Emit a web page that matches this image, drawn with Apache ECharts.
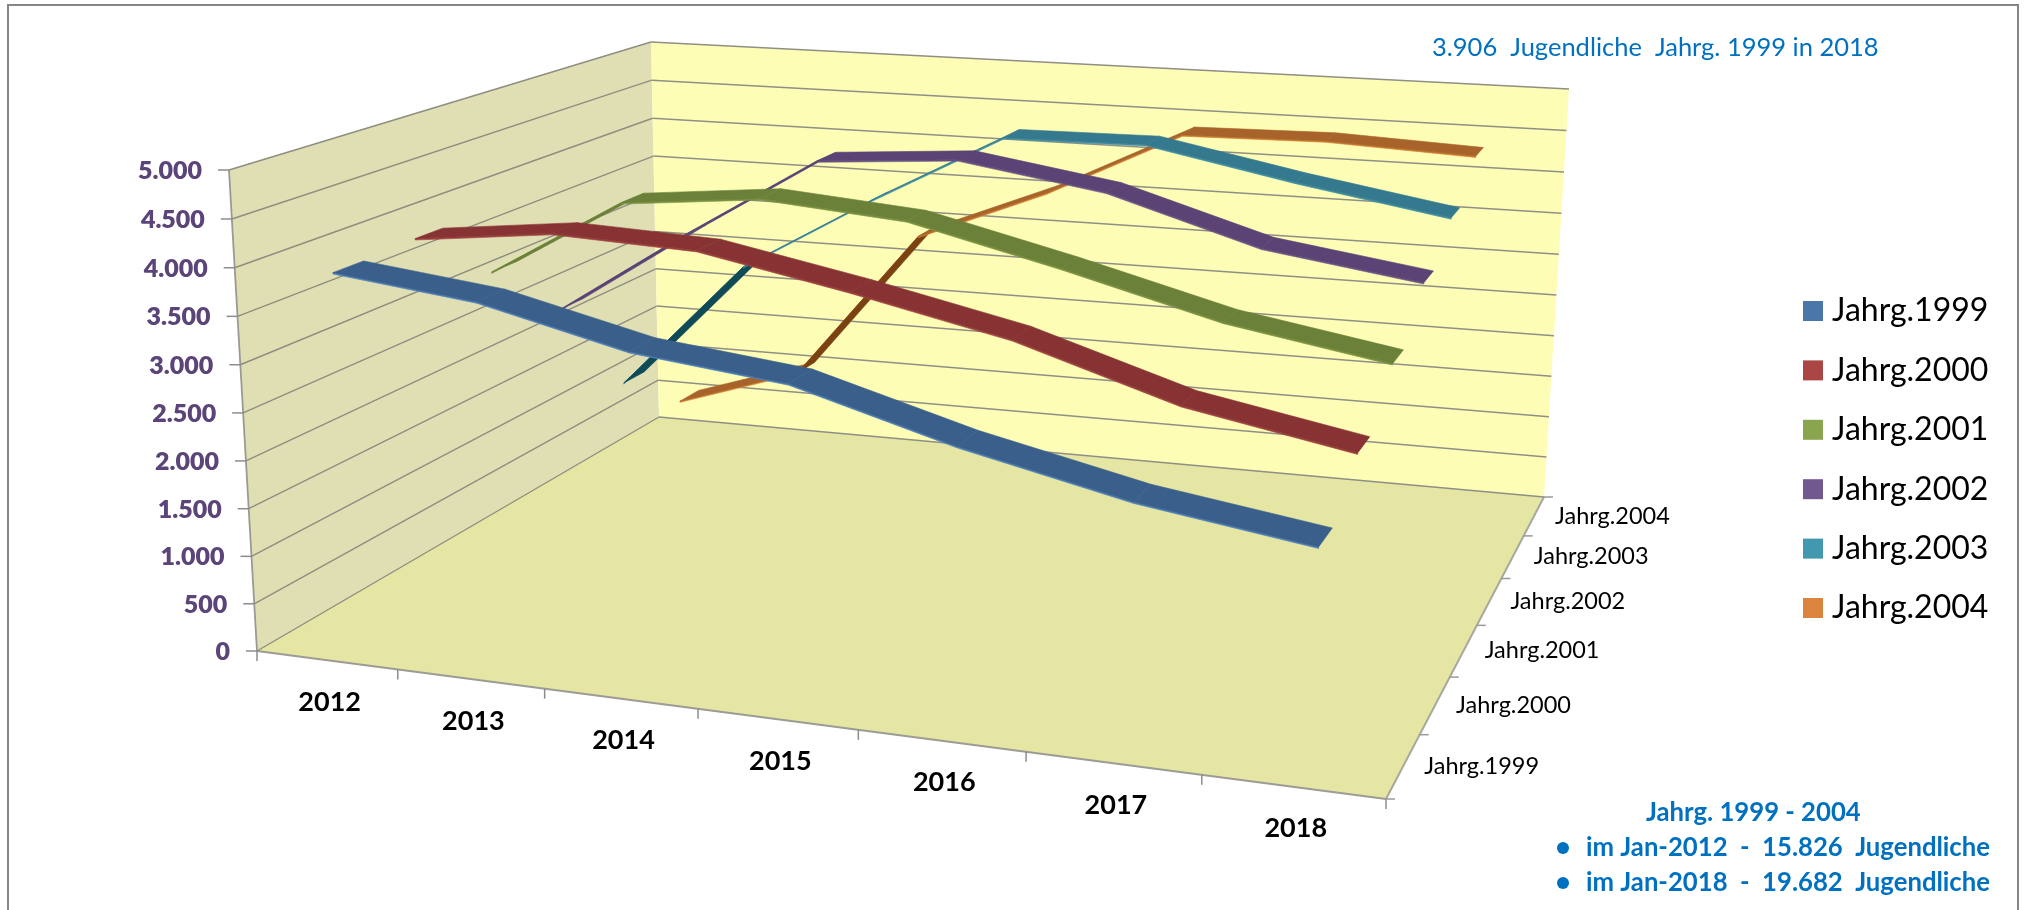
<!DOCTYPE html>
<html><head><meta charset="utf-8">
<style>html,body{margin:0;padding:0;background:#fff}#c{width:2026px;height:910px}</style>
<script src="https://cdn.jsdelivr.net/npm/echarts@6/dist/echarts.min.js"></script>
</head><body><div id="c"></div>
<script>
const years=['2012','2013','2014','2015','2016','2017','2018'];
const cohorts=['Jahrg.1999','Jahrg.2000','Jahrg.2001','Jahrg.2002','Jahrg.2003','Jahrg.2004'];
const yTicks=[0,500,1000,1500,2000,2500,3000,3500,4000,4500,5000];
const jahrg1999=[3906,3742,3381,3211,2753,2386,2139];
const jahrg2000=[3934,4113,4058,3757,3408,2889,2577];
const jahrg2001=[3234,4133,4295,4172,3784,3349,3061];
const jahrg2002=[2457,3461,4422,4543,4291,3791,3544];
const jahrg2003=[1183,2750,3661,4519,4540,4213,3924];
const jahrg2004=[554,1061,2917,3568,4381,4409,4334];
const seriesValues=[jahrg1999,jahrg2000,jahrg2001,jahrg2002,jahrg2003,jahrg2004];
const legendColors=['#4a76a8','#aa4643','#89a54e','#71588f','#4198af','#db843d'];
const ribbonColors=['#3a5f8b','#873334','#6b8139','#5b4475','#35798e','#a7632a'];
const edgeColors=['#4a7ebb','#a04040','#7a9440','#6a5088','#3f90a8','#d07a30'];
const steepColors=['#1e3350','#4a1c1c','#3c4a20','#33264a','#0f4a56','#7a4212'];

// view geometry of the 3D box (pixels of its corners)
const A=[257,651],D=[1386,799],C=[1544,497],B=[659,417],E=[229,170],F=[651,42],G=[1569,89],H=[1430,270];
const GW=1000,GH=800,KW=-0.02;
function homog(p0,p1,p2,p3){
 const dx1=p1[0]-p2[0],dx2=p3[0]-p2[0],sx=p0[0]-p1[0]+p2[0]-p3[0],dy1=p1[1]-p2[1],dy2=p3[1]-p2[1],sy=p0[1]-p1[1]+p2[1]-p3[1];
 const den=dx1*dy2-dx2*dy1,g=(sx*dy2-dx2*sy)/den,h=(dx1*sy-sx*dy1)/den;
 const a=p1[0]-p0[0]+g*p1[0],b=p3[0]-p0[0]+h*p3[0],d=p1[1]-p0[1]+g*p1[1],e=p3[1]-p0[1]+h*p3[1];
 return (u,v)=>{const q=g*u+h*v+1;return [(a*u+b*v+p0[0])/q,(d*u+e*v+p0[1])/q];};
}
const floorH=homog(A,D,C,B),topH=homog(E,H,G,F);
function P(u,v,w){const p=floorH(u,v),q=topH(u,v),t=w*(1+KW)/(1+KW*w);return [p[0]+(q[0]-p[0])*t,p[1]+(q[1]-p[1])*t];}
const uOf=px=>px/GW, wOf=py=>1-py/GH;
const poly=(pts,fill,stroke)=>({type:'polygon',shape:{points:pts},style:{fill,stroke:stroke||null,lineWidth:stroke?0.6:0}});
const line=(p,q,color,lw)=>({type:'line',shape:{x1:p[0],y1:p[1],x2:q[0],y2:q[1]},style:{stroke:color,lineWidth:lw}});
const txt=(x,y,text,font,fill,align)=>({type:'text',style:{x,y,text,font,fill,align,verticalAlign:'middle'}});
const FONT='Lato, "Open Sans", sans-serif';

const wallSeries={name:'Wand',type:'custom',coordinateSystem:'cartesian2d',silent:true,clip:false,z:1,data:[[0,0]],encode:{x:0,y:1},renderItem(){
 return {type:'group',children:[poly([A,B,F,E],'#e0dfb3'),poly([B,C,G,F],'#fdfdb5'),poly([A,D,C,B],'#e5e6a3'),
  line(A,D,'#9c9c94',2),line(D,C,'#a8a89c',2),line(A,E,'#9a9a94',1.8)]};
}};
const gridSeries={name:'Gitter',type:'custom',coordinateSystem:'cartesian2d',silent:true,clip:false,z:2,data:yTicks.map(v=>[0,v]),encode:{x:0,y:1},renderItem(params,api){
 const val=api.value(1),w=wOf(api.coord([0,val])[1]);
 const a=P(0,0,w),b=P(0,1,w),c=P(1,1,w);
 return {type:'group',children:[line(a,b,'#8e8e80',1.4),line(b,c,'#8f8f86',1.5),line([a[0]-11,a[1]],a,'#8c8c8c',1.5),
  txt(a[0]-27,a[1]+1,val===0?'0':val.toLocaleString('de-DE'),'800 25px '+FONT,'#5a4478','right')]};
}};
const catSeries={name:'Jahre',type:'custom',coordinateSystem:'cartesian2d',silent:true,clip:false,z:2,data:years.map((y,i)=>[i,0]),encode:{x:0,y:1},renderItem(params,api){
 const i=api.value(0),pt=api.coord([i,0]),bw=api.size([1,0])[0],u=uOf(pt[0]);
 const l=P(u-uOf(bw)/2,0,0),r=P(u+uOf(bw)/2,0,0),c=P(u,0,0);
 const kids=[line(l,[l[0],l[1]+10],'#8c8c8c',1.5),txt(c[0]+3,c[1]+42,years[i],'bold 27px '+FONT,'#000','center')];
 if(i===years.length-1)kids.push(line(r,[r[0],r[1]+10],'#8c8c8c',1.5));
 return {type:'group',children:kids};
}};
const depthSeries={name:'Tiefe',type:'custom',coordinateSystem:'cartesian2d',silent:true,clip:false,z:2,data:cohorts.map((c,i)=>[i,0]),encode:{x:0,y:1},renderItem(params,api){
 const s=api.value(0),n=cohorts.length,lo=P(1,s/n,0),hi=P(1,(s+1)/n,0),m=P(1,(s+.5)/n,0);
 const kids=[line(lo,[lo[0]+9,lo[1]],'#9a9a9a',1.5),txt(m[0]+21,m[1],cohorts[s],'23.5px '+FONT,'#000','left')];
 if(s===n-1)kids.push(line(hi,[hi[0]+9,hi[1]],'#9a9a9a',1.5));
 return {type:'group',children:kids};
}};
const T=0.36/6, SIDE=0.003;
function ribbon(s){
 const vals=seriesValues[s],v=(s+.5)/cohorts.length;
 return {name:cohorts[s],type:'custom',coordinateSystem:'cartesian2d',silent:true,clip:false,z:10+(cohorts.length-s),
  itemStyle:{color:legendColors[s]},data:vals.map((y,i)=>[i,y]),encode:{x:0,y:1},
  renderItem(params,api){
   const i=api.value(0);
   if(i>=vals.length-1)return null;
   const p0=api.coord([i,vals[i]]),p1=api.coord([i+1,vals[i+1]]);
   const u0=uOf(p0[0]),u1=uOf(p1[0]),w0=wOf(p0[1]),w1=wOf(p1[1]);
   const v0=v-T/2,v1=v+T/2;
   const top=vals[i+1]-vals[i]>1200?steepColors[s]:ribbonColors[s];
   return {type:'group',children:[
    poly([P(u0,v0,w0),P(u1,v0,w1),P(u1,v0,w1-SIDE),P(u0,v0,w0-SIDE)],edgeColors[s],edgeColors[s]),
    poly([P(u0,v0,w0),P(u1,v0,w1),P(u1,v1,w1),P(u0,v1,w0)],top,top)]};
  }};
}
const notes=[
 {text:'3.906  Jugendliche  Jahrg. 1999 in 2018',x:1432,y:48,font:'25.5px '+FONT},
 {text:'2.139 Jugendliche  Jahrg. 1999 in 2018',x:851,y:612,font:'25.5px '+FONT},
 {text:'Jahrg. 1999 - 2004',x:1646,y:813,font:'bold 25.7px '+FONT},
 {text:'im Jan-2012  -  15.826  Jugendliche',x:1586,y:848,font:'bold 25.7px '+FONT},
 {text:'im Jan-2018  -  19.682  Jugendliche',x:1586,y:883,font:'bold 25.7px '+FONT}];
const chart=echarts.init(document.getElementById('c'));
chart.setOption({animation:false,
 grid:{left:0,top:0,width:GW,height:GH},
 xAxis:{type:'category',data:years,show:false},
 yAxis:{type:'value',min:0,max:5000,interval:500,show:false},
 legend:{data:cohorts.map(n=>({name:n,icon:'rect'})),orient:'vertical',left:1803,top:295,padding:0,itemWidth:20,itemHeight:20,itemGap:27.4,
  selectedMode:false,textStyle:{fontFamily:FONT,fontSize:32,color:'#000',padding:[0,0,0,4]}},
 tooltip:{show:false},
 graphic:[
  {type:'rect',silent:true,z:0,shape:{x:8,y:5,width:2010,height:930},style:{fill:'none',stroke:'#868686',lineWidth:2}},
  {type:'circle',silent:true,shape:{cx:1563,cy:848,r:6},style:{fill:'#0070c0'}},
  {type:'circle',silent:true,shape:{cx:1563,cy:883,r:6},style:{fill:'#0070c0'}},
  ...notes.map(n=>({type:'text',silent:true,style:{text:n.text,x:n.x,y:n.y,font:n.font,fill:'#0070c0',align:'left',verticalAlign:'middle'}}))],
 series:[wallSeries,gridSeries,catSeries,depthSeries,...[5,4,3,2,1,0].map(ribbon)]});
</script></body></html>
